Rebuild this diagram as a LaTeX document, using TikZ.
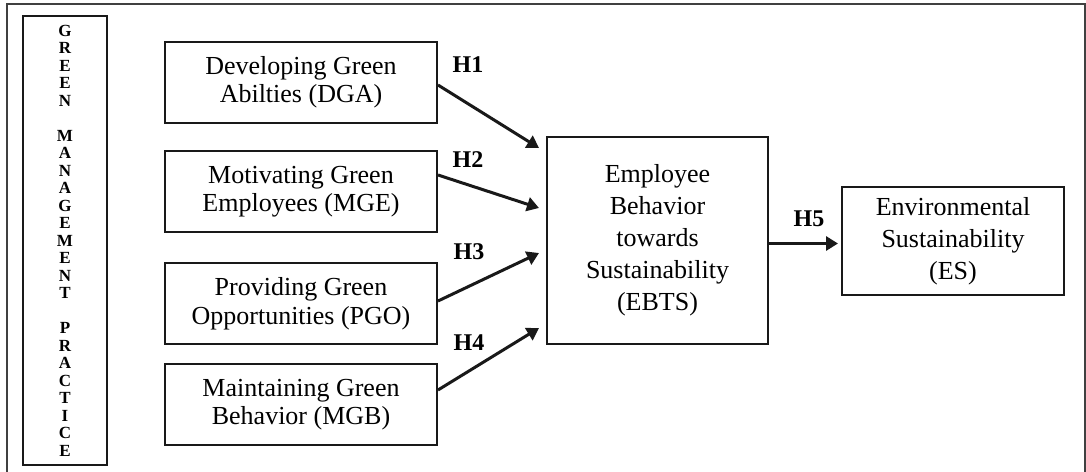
\documentclass[tikz,border=0pt]{standalone}
\usepackage{fontspec}
\setmainfont{Liberation Serif}
\usepackage{tikz}
\usetikzlibrary{arrows.meta}

\begin{document}
\begin{tikzpicture}[
  x = 1pt, y = -1pt, % pixel-like units
  >= {Triangle[length=12pt,width=14pt]}, % arrow head style
  line width = 2pt
  ]

  \tikzstyle{box}=[
      draw = black!90,
      inner sep = 0pt,
      align = center
  ]
  \tikzstyle{small box}=[box,
      minimum width = 272pt,
      minimum height = 81pt,
      font = \fontsize{26}{28.5}\selectfont
  ]
  \tikzstyle{big box}=[box,
      font = \fontsize{26}{32}\selectfont
  ]
  \tikzstyle{hyp}=[->, line width = 3pt, black!90]
  \tikzstyle{hlabel}=[font = \fontsize{24}{26}\selectfont\bfseries]

\useasboundingbox (0,0) rectangle (1086,471);
% outer frame, open at the bottom
\draw[draw=black!75, line width=1.6pt] (7,480) -- (7,4) -- (1085,4) -- (1085,480);

\node[box, minimum width=84pt, minimum height=449pt,
  font=\fontsize{17}{17.5}\selectfont\bfseries] (GMP) at (65,240.5)
  {G\\R\\E\\E\\N\\\mbox{}\\M\\A\\N\\A\\G\\E\\M\\E\\N\\T\\\mbox{}\\P\\R\\A\\C\\T\\I\\C\\E};

\node[small box] (DGA) at (301,82) {Developing Green\\Abilties (DGA)};
\node[small box] (MGE) at (301,191.5) {Motivating Green\\Employees (MGE)};
\node[small box] (PGO) at (301,303.5) {Providing Green\\Opportunities (PGO)};
\node[small box] (MGB) at (301,404.5) {Maintaining Green\\Behavior (MGB)};

\node[big box, minimum width=221pt, minimum height=207pt] (EBTS) at (657.5,240.5)
  {Employee\\Behavior\\towards\\Sustainability\\(EBTS)};
\node[big box, minimum width=222pt, minimum height=108pt] (ES) at (953,241)
  {Environmental\\Sustainability\\(ES)};

\node[hlabel] (H1) at (468,65) {H1};
\node[hlabel] (H2) at (468,160) {H2};
\node[hlabel] (H3) at (469,252) {H3};
\node[hlabel] (H4) at (469,343) {H4};
\node[hlabel] (H5) at (809,219) {H5};

 \draw[hyp] ([yshift=-3pt]DGA.east) -- ([xshift=-7pt,yshift=92.5pt]EBTS.west);
 \draw[hyp] ([yshift=16.5pt]MGE.east) -- ([xshift=-7pt,yshift=32.5pt]EBTS.west);
 \draw[hyp] ([yshift=2.5pt]PGO.east) -- ([xshift=-7pt,yshift=-12.5pt]EBTS.west);
 \draw[hyp] ([yshift=14.5pt]MGB.east) -- ([xshift=-7pt,yshift=-87.5pt]EBTS.west);
 \draw[hyp] ([yshift=-3pt]EBTS.east) -- ([xshift=-3pt,yshift=-2.5pt]ES.west);
\end{tikzpicture}
\end{document}
